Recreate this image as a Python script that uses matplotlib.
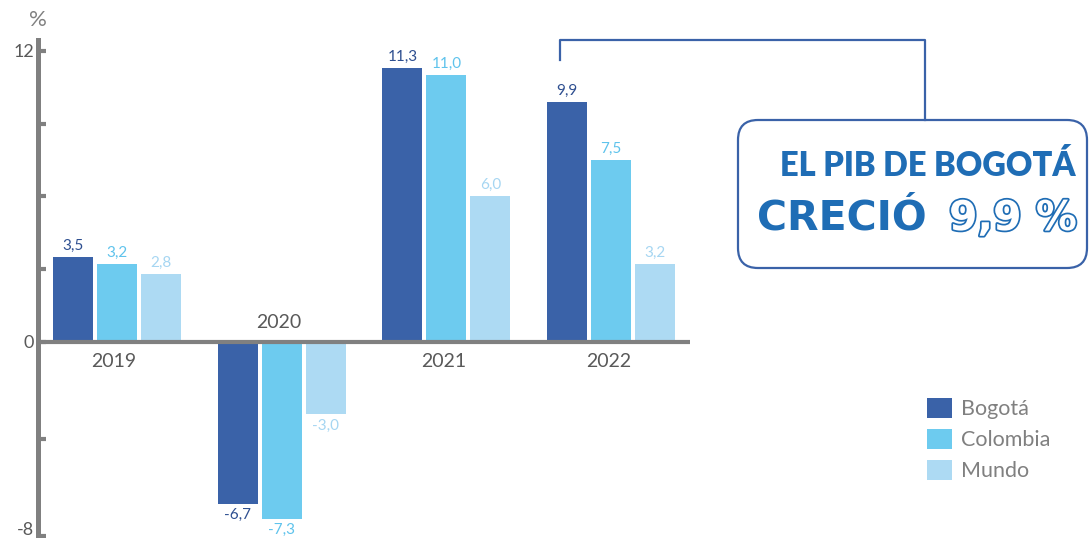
import matplotlib
matplotlib.use('Agg')
import matplotlib.pyplot as plt
import matplotlib.patheffects as pe
from matplotlib.patches import Patch, FancyBboxPatch
from matplotlib.lines import Line2D
from matplotlib.transforms import IdentityTransform, ScaledTranslation
import numpy as np

plt.rcParams['font.family'] = ['Lato', 'DejaVu Sans']

years = ['2019', '2020', '2021', '2022']
series = ['Bogotá', 'Colombia', 'Mundo']
bogota = [3.5, -6.7, 11.3, 9.9]
colombia = [3.2, -7.3, 11.0, 7.5]
mundo = [2.8, -3.0, 6.0, 3.2]

bar_colors = ['#3A62A8', '#6DCBEF', '#ADDAF3']
label_colors = ['#2E4F90', '#5FC3EC', '#A6D6F2']
gray = '#808080'
dark_gray = '#595959'
accent = '#1F6DB5'

W, H = 1089, 538
fig = plt.figure(figsize=(W / 100, H / 100), dpi=100)
ax = fig.add_axes([38 / W, 0, 652 / W, 498 / H])
ax.set_xlim(-0.479, 3.479)
ax.set_ylim(-8.1, 12.45)

x = np.arange(len(years))
width = 0.2424
step = 0.2667

for i, (vals, c, lc) in enumerate(zip([bogota, colombia, mundo], bar_colors, label_colors)):
    pos = x + (i - 1) * step
    ax.bar(pos, vals, width=width, color=c, zorder=2)
    for p, v in zip(pos, vals):
        txt = f'{v:.1f}'.replace('.', ',')
        if v >= 0:
            ax.annotate(txt, (p, v), xytext=(0, 3), textcoords='offset points',
                        ha='center', va='bottom', fontsize=11, color=lc)
        else:
            ax.annotate(txt, (p, v), xytext=(0, -3), textcoords='offset points',
                        ha='center', va='top', fontsize=11, color=lc)

# year labels sit on the opposite side of the bars
for xi, yr, v in zip(x, years, bogota):
    if v >= 0:
        ax.annotate(yr, (xi, 0), xytext=(-2, -8), textcoords='offset points',
                    ha='center', va='top', fontsize=14, color=dark_gray)
    else:
        ax.annotate(yr, (xi, 0), xytext=(-2, 8), textcoords='offset points',
                    ha='center', va='bottom', fontsize=14, color=dark_gray)

ax.axhline(0, color=gray, lw=3, zorder=3)

for s in ['top', 'right', 'bottom']:
    ax.spines[s].set_visible(False)
ax.spines['left'].set_color(gray)
ax.spines['left'].set_linewidth(3.6)
ax.set_xticks([])
ax.set_yticks([-8, -4, 0, 3, 6, 9, 12])
ax.set_yticklabels(['-8', '', '0', '', '', '', '12'])
ax.tick_params(axis='y', direction='in', length=6, width=3, color=gray,
               labelsize=13, labelcolor=dark_gray, pad=3)
ax.patch.set_visible(False)

# lift the bottom label so it stays inside the figure
lab = ax.get_yticklabels()[0]
lab.set_transform(lab.get_transform() + ScaledTranslation(0, 5 / 72, fig.dpi_scale_trans))

fig.text(38 / W, 1 - 20 / H, '%', ha='center', va='center', fontsize=16, color=gray)

handles = [Patch(facecolor=c) for c in bar_colors]
leg = fig.legend(handles, series, loc='upper left', bbox_to_anchor=(927 / W, 1 - 398 / H),
                 frameon=False, fontsize=15.5, handlelength=1.15, handleheight=1.05,
                 labelspacing=0.45, handletextpad=0.45, borderpad=0, borderaxespad=0)
for t in leg.get_texts():
    t.set_color(gray)

# callout box with bracket pointing to the 2022 bar
ident = IdentityTransform()
box = FancyBboxPatch((738, H - 268), 349, 148, boxstyle='round,pad=0,rounding_size=20',
                     transform=ident, fill=False, edgecolor='#3A62A8', lw=1.6)
fig.patches.append(box)
fig.lines.append(Line2D([560, 560, 925, 925], [H - 60, H - 40, H - 40, H - 120],
                        transform=ident, color='#3A62A8', lw=1.6))

fig.text(928, H - 166, 'EL PIB DE BOGOTÁ', transform=ident, ha='center', va='center',
         fontsize=23.5, fontweight='heavy', color=accent)
fig.text(757, H - 219, 'CRECIÓ', transform=ident, ha='left', va='center',
         fontsize=29.5, fontweight='bold', family='DejaVu Sans', color=accent)
fig.text(949, H - 219, '9,9 %', transform=ident, ha='left', va='center',
         fontsize=29.5, fontweight='bold', color='white', family='DejaVu Sans',
         path_effects=[pe.withStroke(linewidth=2.5, foreground=accent)])

fig.savefig('out.png', dpi=100)
